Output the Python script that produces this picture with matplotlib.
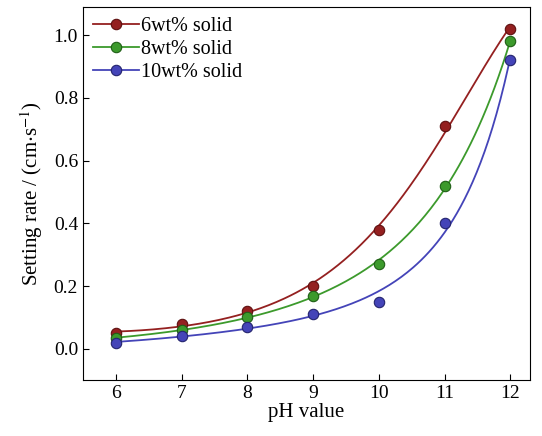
import matplotlib
matplotlib.use("Agg")
import matplotlib.pyplot as plt
import numpy as np

plt.rcParams['font.family'] = ['Liberation Serif', 'DejaVu Serif']
plt.rcParams['mathtext.fontset'] = 'stix'

ph = [6, 7, 8, 9, 10, 11, 12]
rate_6 = [0.05, 0.08, 0.12, 0.20, 0.38, 0.71, 1.02]
rate_8 = [0.035, 0.06, 0.10, 0.17, 0.27, 0.52, 0.98]
rate_10 = [0.02, 0.04, 0.07, 0.11, 0.15, 0.40, 0.92]
labels = ["6wt% solid", "8wt% solid", "10wt% solid"]
colors = ["#942020", "#3c9a2c", "#4444b8"]
edges = ["#5e1010", "#1f5e16", "#24246e"]


def log_fit(x, y):
    # smooth trend: log(y) as cubic in x, weighted toward larger values
    y = np.asarray(y, float)
    p = np.polyfit(np.asarray(x, float), np.log(y), 3, w=y ** 0.5)
    return lambda t: np.exp(np.polyval(p, t))


fig = plt.figure(figsize=(5.42, 4.36), dpi=100)
ax = fig.add_axes([0.153, 0.128, 0.825, 0.856])

xs = np.linspace(6, 12, 200)
for y, lab, c, ec in zip([rate_6, rate_8, rate_10], labels, colors, edges):
    f = log_fit(ph, y)
    ax.plot(xs, f(xs), color=c, lw=1.3)
    ax.plot(ph, y, 'o', color=c, mec=ec, mew=0.8, ms=7.5)
    ax.plot([], [], '-o', color=c, mec=ec, mew=0.8, ms=7.5, lw=1.3, label=lab)

ax.set_xlim(5.5, 12.3)
ax.set_ylim(-0.1, 1.09)
ax.set_xticks(ph)
ax.set_yticks([0.0, 0.2, 0.4, 0.6, 0.8, 1.0])
ax.set_yticklabels(["0.0", "0.2", "0.4", "0.6", "0.8", "1.0"])
ax.tick_params(direction='in', labelsize=14, length=4)
ax.set_xlabel("pH value", fontsize=15, labelpad=1)
ax.set_ylabel("Setting rate / (cm$\\cdot$s$^{-1}$)", fontsize=15, labelpad=6)
ax.legend(loc='upper left', frameon=False, fontsize=14.5, handlelength=2.3,
          handletextpad=0.1, labelspacing=0.2, borderaxespad=0.1,
          bbox_to_anchor=(0.0, 1.0))

fig.savefig("out.png", dpi=100)
